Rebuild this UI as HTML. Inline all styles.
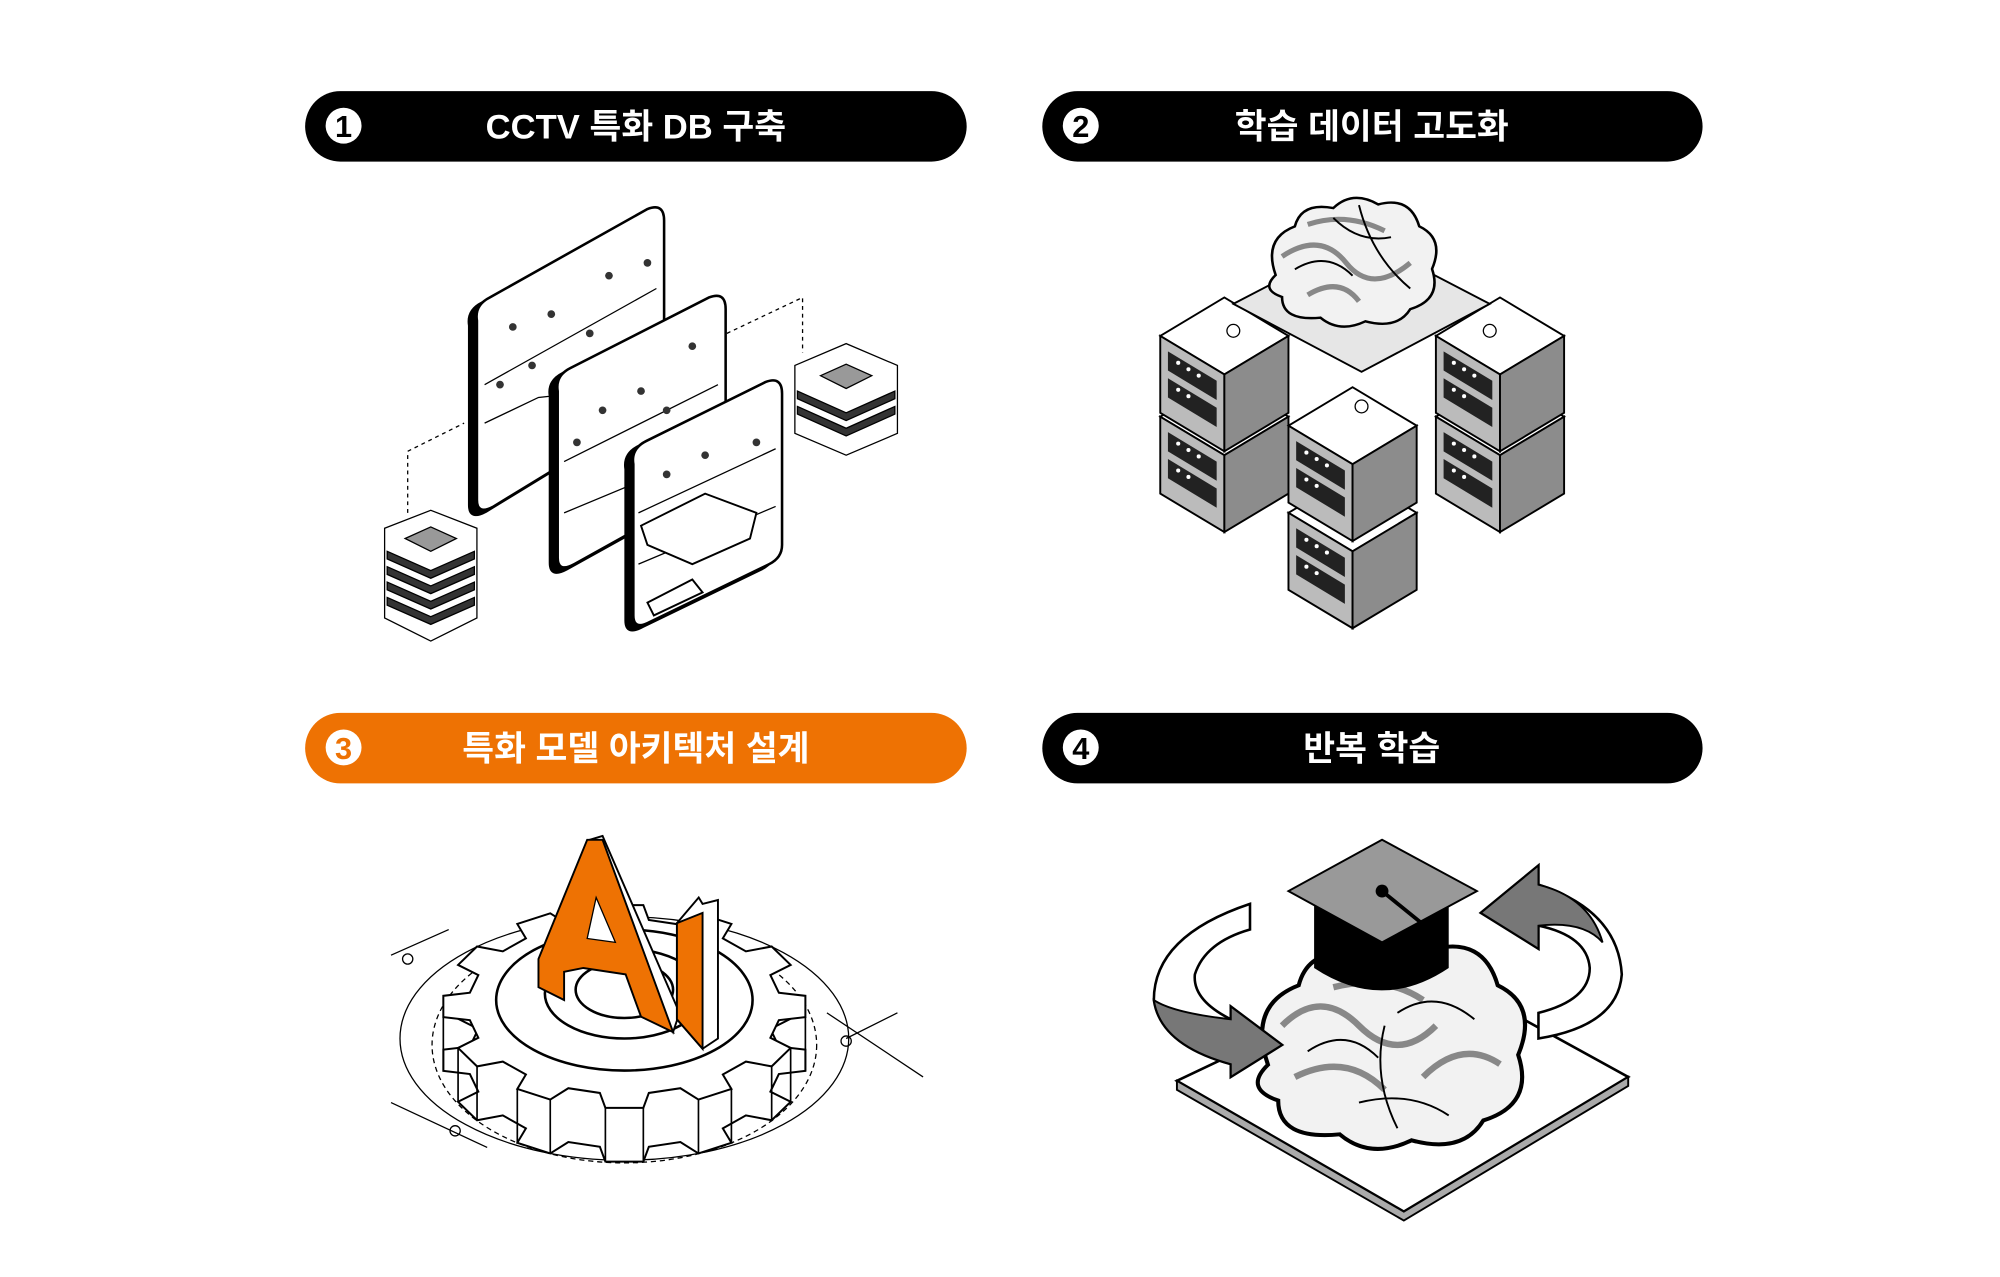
<!DOCTYPE html>
<html><head><meta charset="utf-8"><style>
html,body{margin:0;padding:0;background:#fff;width:2000px;height:1277px;overflow:hidden}
svg{display:block}
text{font-family:"Liberation Sans","Noto Sans CJK KR",sans-serif;font-weight:bold}
</style></head><body>
<svg width="2000" height="1277" viewBox="0 0 1560 996" xmlns="http://www.w3.org/2000/svg">
<defs>
<g id="box">
<path d="M0,0 L50,-30 L100,0 L50,30 Z" fill="#fff" stroke="#000" stroke-width="1.5"/>
<path d="M0,0 L50,30 L50,90 L0,60 Z" fill="#bbb" stroke="#000" stroke-width="1.5"/>
<path d="M50,30 L100,0 L100,60 L50,90 Z" fill="#8c8c8c" stroke="#000" stroke-width="1.5"/>
<path d="M6,12 L44,35 L44,50 L6,27 Z" fill="#222"/>
<path d="M6,33 L44,56 L44,71 L6,48 Z" fill="#222"/>
<circle cx="14" cy="21" r="1.6" fill="#fff"/><circle cx="22" cy="26" r="1.6" fill="#fff"/><circle cx="30" cy="31" r="1.6" fill="#fff"/>
<circle cx="14" cy="42" r="1.6" fill="#fff"/><circle cx="22" cy="47" r="1.6" fill="#fff"/>
</g>
<g id="brainlob">
<path d="M-60,10 Q-70,-20 -45,-30 Q-40,-50 -15,-45 Q0,-60 20,-48 Q45,-55 52,-30 Q72,-20 62,5 Q70,30 45,38 Q35,55 10,48 Q-10,58 -25,45 Q-55,48 -55,28 Q-72,22 -60,10 Z" fill="#f2f2f2" stroke="#000" stroke-width="2"/>
</g>
<path id="gear" d="M120.5,-19.1 L141.2,-14.8 L141.2,14.8 L120.5,19.1 L113.9,43.7 L129.7,57.8 L114.9,83.5 L94.8,76.8 L76.8,94.8 L83.5,114.9 L57.8,129.7 L43.7,113.9 L19.1,120.5 L14.8,141.2 L-14.8,141.2 L-19.1,120.5 L-43.7,113.9 L-57.8,129.7 L-83.5,114.9 L-76.8,94.8 L-94.8,76.8 L-114.9,83.5 L-129.7,57.8 L-113.9,43.7 L-120.5,19.1 L-141.2,14.8 L-141.2,-14.8 L-120.5,-19.1 L-113.9,-43.7 L-129.7,-57.8 L-114.9,-83.5 L-94.8,-76.8 L-76.8,-94.8 L-83.5,-114.9 L-57.8,-129.7 L-43.7,-113.9 L-19.1,-120.5 L-14.8,-141.2 L14.8,-141.2 L19.1,-120.5 L43.7,-113.9 L57.8,-129.7 L83.5,-114.9 L76.8,-94.8 L94.8,-76.8 L114.9,-83.5 L129.7,-57.8 L113.9,-43.7 Z" fill="#fff" stroke="#000" stroke-width="2" vector-effect="non-scaling-stroke"/>
</defs>

<!-- pills -->
<rect x="238" y="71" width="516" height="55" rx="27.5" fill="#000"/>
<circle cx="268" cy="98" r="14" fill="#fff"/><text x="268" y="107" font-size="24" text-anchor="middle" fill="#000">1</text>
<text x="496" y="108" font-size="27" text-anchor="middle" fill="#fff">CCTV 특화 DB 구축</text>

<rect x="813" y="71" width="515" height="55" rx="27.5" fill="#000"/>
<circle cx="843" cy="98" r="14" fill="#fff"/><text x="843" y="107" font-size="24" text-anchor="middle" fill="#000">2</text>
<text x="1070" y="108" font-size="27" text-anchor="middle" fill="#fff">학습 데이터 고도화</text>

<rect x="238" y="556" width="516" height="55" rx="27.5" fill="#ee7203"/>
<circle cx="268" cy="583" r="14" fill="#fff"/><text x="268" y="592" font-size="24" text-anchor="middle" fill="#ee7203">3</text>
<text x="496" y="593" font-size="27" text-anchor="middle" fill="#fff">특화 모델 아키텍처 설계</text>

<rect x="813" y="556" width="515" height="55" rx="27.5" fill="#000"/>
<circle cx="843" cy="583" r="14" fill="#fff"/><text x="843" y="592" font-size="24" text-anchor="middle" fill="#000">4</text>
<text x="1070" y="593" font-size="27" text-anchor="middle" fill="#fff">반복 학습</text>

<!-- illustration 1 -->
<g stroke="#000" fill="none">
<path d="M318,400 L318,352 L362,330" stroke-dasharray="3,3"/>
<path d="M567,260 L626,232 L626,275" stroke-dasharray="3,3"/>
</g>
<g stroke="#000" stroke-width="2">
<path d="M372,250 Q370,238 382,232 L505,163 Q518,158 518,172 L518,305 Q518,315 508,320 L385,395 Q372,402 372,390 Z" fill="#000" transform="translate(-6,4)"/>
<path d="M372,250 Q370,238 382,232 L505,163 Q518,158 518,172 L518,305 Q518,315 508,320 L385,395 Q372,402 372,390 Z" fill="#fff"/>
<path d="M378,300 L512,225 M378,330 L420,310 L512,300" fill="none" stroke-width="1"/>
<path d="M435,305 Q433,293 445,287 L553,232 Q566,227 566,241 L566,365 Q566,375 556,380 L448,440 Q435,447 435,435 Z" fill="#000" transform="translate(-6,4)"/>
<path d="M435,305 Q433,293 445,287 L553,232 Q566,227 566,241 L566,365 Q566,375 556,380 L448,440 Q435,447 435,435 Z" fill="#fff"/>
<path d="M440,360 L560,300 M440,400 L560,350" fill="none" stroke-width="1"/>
<path d="M494,362 Q492,350 504,344 L597,298 Q610,293 610,307 L610,425 Q610,435 600,440 L507,485 Q494,492 494,480 Z" fill="#000" transform="translate(-6,4)"/>
<path d="M494,362 Q492,350 504,344 L597,298 Q610,293 610,307 L610,425 Q610,435 600,440 L507,485 Q494,492 494,480 Z" fill="#fff"/>
<path d="M498,400 L605,350 M498,440 L605,395" fill="none" stroke-width="1"/>
<path d="M500,410 L550,385 L590,400 L585,420 L540,440 L505,425 Z" fill="#fff" stroke-width="1.5"/>
<path d="M505,470 L540,452 L548,462 L510,480 Z" fill="#fff" stroke-width="1.5"/>
</g>
<g fill="#333" stroke="none">
<circle cx="400" cy="255" r="3"/><circle cx="430" cy="245" r="3"/><circle cx="475" cy="215" r="3"/><circle cx="505" cy="205" r="3"/><circle cx="415" cy="285" r="3"/><circle cx="460" cy="260" r="3"/><circle cx="390" cy="300" r="3"/>
<circle cx="470" cy="320" r="3"/><circle cx="500" cy="305" r="3"/><circle cx="540" cy="270" r="3"/><circle cx="450" cy="345" r="3"/><circle cx="520" cy="320" r="3"/>
<circle cx="520" cy="370" r="3"/><circle cx="550" cy="355" r="3"/><circle cx="590" cy="345" r="3"/>
</g>
<g stroke="#000" fill="#fff">
<path d="M300,412 L336,398 L372,412 L372,482 L336,500 L300,482 Z"/>
<g fill="#333"><path d="M302,430 L336,445 L370,430 L370,436 L336,451 L302,436Z"/><path d="M302,442 L336,457 L370,442 L370,448 L336,463 L302,448Z"/><path d="M302,454 L336,469 L370,454 L370,460 L336,475 L302,460Z"/><path d="M302,466 L336,481 L370,466 L370,472 L336,487 L302,472Z"/></g>
<path d="M316,420 L336,411 L356,420 L336,430 Z" fill="#999"/>
<path d="M620,285 L660,268 L700,285 L700,338 L660,355 L620,338 Z"/>
<g fill="#333"><path d="M622,305 L660,322 L698,305 L698,311 L660,328 L622,311Z"/><path d="M622,317 L660,334 L698,317 L698,323 L660,340 L622,323Z"/></g>
<path d="M640,293 L660,284 L680,293 L660,303 Z" fill="#999"/>
</g>

<!-- illustration 2 -->
<use href="#box" x="905" y="325"/>
<use href="#box" x="905" y="262"/>
<use href="#box" x="1120" y="325"/>
<use href="#box" x="1120" y="262"/>
<path d="M962,237 L1062,185 L1162,237 L1062,290 Z" fill="#e6e6e6" stroke="#000" stroke-width="1.5"/>
<circle cx="962" cy="258" r="5" fill="#fff" stroke="#000"/><circle cx="1162" cy="258" r="5" fill="#fff" stroke="#000"/>
<use href="#brainlob" transform="translate(1055,205) scale(1.0,0.95)"/>
<path d="M1000,200 Q1030,180 1050,205 Q1070,230 1100,205 M1020,230 Q1045,215 1060,235 M1020,175 Q1050,165 1080,180" fill="none" stroke="#888" stroke-width="4"/>
<path d="M1010,210 Q1035,195 1055,215 M1040,170 Q1060,190 1085,185 M1060,160 Q1070,200 1100,225" fill="none" stroke="#000" stroke-width="1.5"/>
<use href="#box" x="1005" y="400"/>
<use href="#box" x="1005" y="332"/>
<circle cx="1062" cy="317" r="5" fill="#fff" stroke="#000"/>

<!-- illustration 3 -->
<g fill="none" stroke="#000" stroke-width="1">
<ellipse cx="487" cy="810" rx="175" ry="95"/>
<ellipse cx="487" cy="815" rx="150" ry="92" stroke-dasharray="4,3"/>
<path d="M305,745 L350,725 M305,860 L380,895 M645,790 L720,840 M660,810 L700,790"/>
<circle cx="318" cy="748" r="4"/><circle cx="355" cy="882" r="4"/><circle cx="660" cy="812" r="4"/>
</g>
<use href="#gear" transform="translate(487,827) scale(1,0.56)"/>
<path d="M628.2,793.3V835.3 M616.7,817.4V859.4 M601.9,831.8V873.8 M570.5,849.3V891.3 M544.8,857.6V899.6 M501.8,864.1V906.1 M472.2,864.1V906.1 M429.2,857.6V899.6 M403.5,849.3V891.3 M372.1,831.8V873.8 M357.3,817.4V859.4 M345.8,793.3V835.3" stroke="#000" stroke-width="1.3"/>
<use href="#gear" transform="translate(487,785) scale(1,0.56)"/>
<ellipse cx="487" cy="780" rx="100" ry="55" fill="#fff" stroke="#000" stroke-width="2"/>
<ellipse cx="487" cy="775" rx="62" ry="35" fill="#fff" stroke="#000" stroke-width="2"/>
<ellipse cx="487" cy="772" rx="38" ry="22" fill="#fff" stroke="#000" stroke-width="2"/>
<path d="M460,655 L470,652 L530,790 L525,805 Z" fill="#fff" stroke="#000" stroke-width="1.5"/>
<path d="M420,748 L458,655 L470,655 L525,805 L500,793 L488,760 L455,755 L440,758 L440,780 L420,770 Z" fill="#ee7203" stroke="#000" stroke-width="1.5"/>
<path d="M465,700 L480,735 L458,732 Z" fill="#fff" stroke="#000"/>
<path d="M528,720 L545,700 L548,705 L560,702 L560,810 L548,818 L528,795 Z" fill="#fff" stroke="#000" stroke-width="1.5"/>
<path d="M528,720 L548,712 L548,818 L528,795 Z" fill="#ee7203" stroke="#000" stroke-width="1.5"/>

<!-- illustration 4 -->
<path d="M918,843 L1110,752 L1270,840 L1095,945 Z" fill="#fff" stroke="#000" stroke-width="2"/>
<path d="M918,843 L918,850 L1095,952 L1270,847 L1270,840 L1095,945 Z" fill="#aaa" stroke="#000" stroke-width="1.5"/>
<use href="#brainlob" transform="translate(1085,815) scale(1.6,1.55)"/>
<path d="M1000,800 Q1030,770 1060,800 Q1090,830 1120,800 M1010,840 Q1050,820 1080,850 M1110,840 Q1140,810 1170,830 M1040,770 Q1080,760 1110,780" fill="none" stroke="#888" stroke-width="5"/>
<path d="M1020,820 Q1050,800 1075,825 M1090,790 Q1120,770 1150,795 M1060,860 Q1100,850 1130,870 M1080,800 Q1070,840 1090,880" fill="none" stroke="#000" stroke-width="1.5"/>
<path d="M1025,700 L1130,700 L1130,755 Q1078,790 1025,755 Z" fill="#000"/>
<path d="M1005,695 L1078,655 L1152,695 L1078,735 Z" fill="#999" stroke="#000" stroke-width="1.5"/>
<circle cx="1078" cy="695" r="5" fill="#000"/>
<path d="M1078,695 L1115,725 L1115,760" stroke="#000" stroke-width="3" fill="none"/>
<path d="M975,705 Q900,730 900,780 Q905,815 960,830 L960,840 L1000,815 L960,785 L960,795 Q930,780 932,760 Q940,735 975,725 Z" fill="#fff" stroke="#000" stroke-width="2"/>
<path d="M900,780 Q905,815 960,830 L960,840 L1000,815 L960,785 L960,795 Q915,790 900,780 Z" fill="#777" stroke="#000" stroke-width="1.5"/>
<path d="M1155,712 L1200,675 L1200,690 Q1262,710 1265,760 Q1262,800 1200,810 L1200,790 Q1240,780 1240,755 Q1238,730 1200,722 L1200,740 Z" fill="#fff" stroke="#000" stroke-width="2"/>
<path d="M1155,712 L1200,675 L1200,690 Q1240,700 1250,735 Q1235,718 1200,722 L1200,740 Z" fill="#777" stroke="#000" stroke-width="1.5"/>
</svg>
</body></html>
